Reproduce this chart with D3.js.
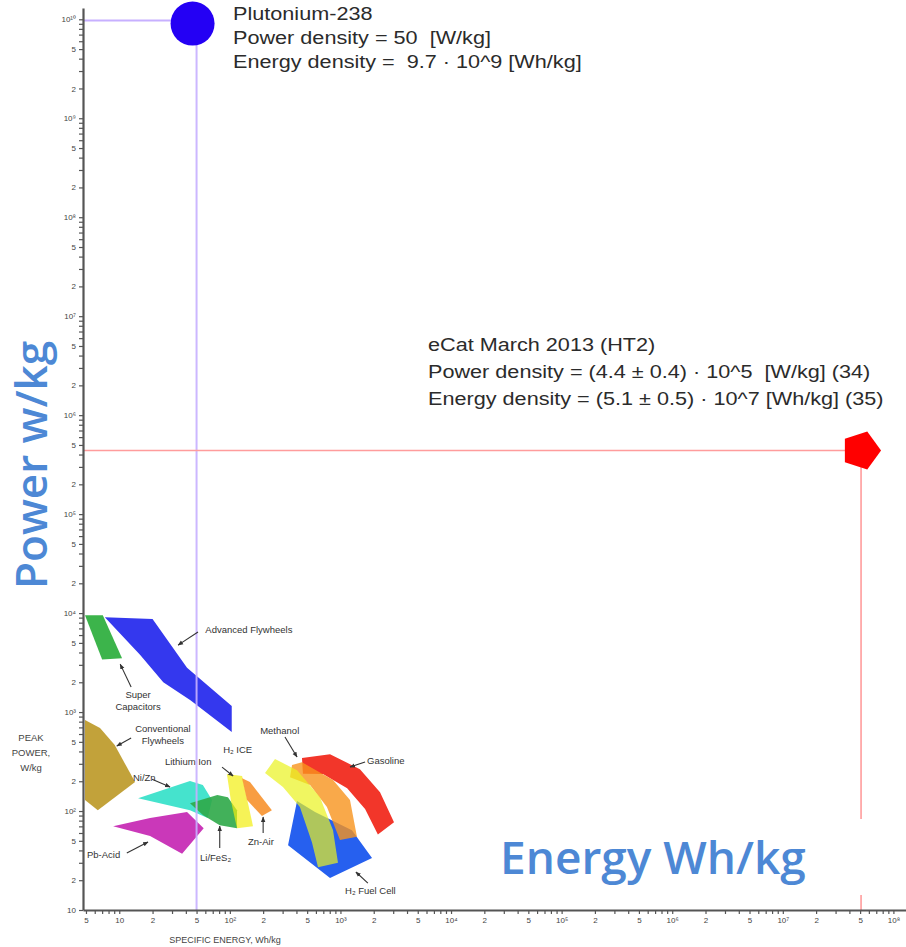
<!DOCTYPE html>
<html>
<head>
<meta charset="utf-8">
<script src="https://cdn.jsdelivr.net/npm/d3@7"></script>
<style>
  body { margin: 0; background: #fff; }
  svg { display: block; }
  text { font-family: "Liberation Sans", Arial, sans-serif; }
</style>
</head>
<body>
<svg id="chart" width="906" height="947"></svg>
<script>
let width = 906,
  height = 947

// Ragone regions, vertices as [specific energy Wh/kg, peak power W/kg]
const superCapacitors = [[4.9, 9500], [7.1, 9500], [10.6, 3500], [7.0, 3400]]
const advancedFlywheels = [[7.4, 9100], [20, 8700], [41, 2800], [104, 1150], [104, 630], [44, 1320], [25, 2000], [15.4, 3800]]
const conventionalFlywheels = [[4.9, 830], [6.7, 690], [9.1, 464], [13.9, 196], [6.4, 102], [4.9, 129]]
const niZn = [[14.8, 135], [43.6, 201], [57, 183], [69, 129], [63, 85], [43.6, 102]]
const pbAcid = [[8.8, 70], [19, 85], [41, 98], [58, 67], [37, 37], [19, 56]]
const liFeS2 = [[43.6, 120], [77, 145], [96, 138], [116, 102], [116, 67], [81, 72], [57, 91]]
const lithiumIon = [[94, 236], [129, 226], [162, 70], [116, 67], [102, 129]]
const znAir = [[129, 215], [152, 196], [240, 102], [195, 89], [143, 129]]
const h2FuelCell = [[405, 126], [589, 98], [1270, 64], [1930, 33.5], [805, 21], [336, 45]]
const gasoline = [[449, 343], [805, 375], [1500, 265], [2280, 155], [3050, 77], [2180, 58], [1670, 105], [1150, 170], [695, 236], [458, 238]]
const methanol = [[350, 220], [365, 292], [449, 312], [857, 206], [1220, 129], [1410, 55], [990, 51], [755, 110], [531, 183]]
const h2Ice = [[208, 242], [256, 335], [405, 259], [653, 138], [857, 64], [950, 30], [627, 27], [553, 48], [430, 110], [302, 175]]

// region fills, in drawing order
const regions = [
  { pts: superCapacitors, fill: "#3cb44b", op: 1 },
  { pts: advancedFlywheels, fill: "#3438ee", op: 1 },
  { pts: conventionalFlywheels, fill: "#c2a23a", op: 1 },
  { pts: niZn, fill: "#45e3cd", op: 1 },
  { pts: pbAcid, fill: "#ca38b9", op: 1 },
  { pts: liFeS2, fill: "#2ea948", op: 0.9 },
  { pts: lithiumIon, fill: "#f2ee10", op: 0.7 },
  { pts: znAir, fill: "#f7922e", op: 0.9 },
  { pts: h2FuelCell, fill: "#2660ef", op: 1 },
  { pts: gasoline, fill: "#f2362a", op: 1 },
  { pts: methanol, fill: "#f7941d", op: 0.8 },
  { pts: h2Ice, fill: "#eaf21e", op: 0.7 }
]

// labels: text lines, anchor [energy, power], arrow from / to
const labelText = [["Advanced Flywheels"], ["Super", "Capacitors"], ["Conventional", "Flywheels"], ["Ni/Zn"], ["Lithium Ion"], ["H₂ ICE"], ["Methanol"], ["Gasoline"], ["Pb-Acid"], ["Li/FeS₂"], ["Zn-Air"], ["H₂ Fuel Cell"]]
const labelAt = [[60, 6280], [14.8, 1380], [24.8, 628], [13.3, 201], [25.9, 292], [87, 385], [188, 600], [1740, 299], [5.1, 33.5], [53.7, 31.3], [146, 45.4], [1100, 14.5]]
const labelMid = [false, true, true, false, false, false, false, false, false, false, false, false]
const arrowFrom = [[51.5, 6430], [12.8, 1790], [12.8, 546], [19.8, 210], [85, 278], null, [315, 559], [1670, 313], [11.7, 37.7], [81, 42.3], [200, 60], [1770, 18.7]]
const arrowTo = [[34, 4750], [10.2, 3050], [9.5, 454], [28.8, 175], [107, 226], null, [405, 351], [1220, 278], [18.2, 48.7], [81, 70.5], [200, 87], [1380, 24.2]]

// highlighted points
const puPoint = [50, 9.7e9]      // drawn with power on x, energy on y
const ecatPoint = [5.1e7, 4.4e5] // energy on x, power on y
const puLines = ["Plutonium-238", "Power density = 50  [W/kg]", "Energy density =  9.7 · 10^9 [Wh/kg]"]
const ecatLines = ["eCat March 2013 (HT2)", "Power density = (4.4 ± 0.4) · 10^5  [W/kg] (34)", "Energy density = (5.1 ± 0.5) · 10^7 [Wh/kg] (35)"]

let x = d3.scaleLog().domain([4.7, 1.3e8]).range([83, 906]),
  y = d3.scaleLog().domain([10, 1.3e10]).range([910, 8])

const sup = "⁰¹²³⁴⁵⁶⁷⁸⁹"
function tickLabel(d) {
  let e = Math.floor(Math.log10(d) + 1e-9),
    m = Math.round(d / 10 ** e)
  if (m == 1) return e == 1 ? "10" : "10" + String(e).split("").map(c => sup[+c]).join("")
  return m == 2 || m == 5 ? String(m) : ""
}

const svg = d3.select("#chart")

svg.append("defs").append("marker")
  .attr("id", "head")
  .attr("viewBox", "0 0 10 10")
  .attr("refX", 9).attr("refY", 5)
  .attr("markerWidth", 5).attr("markerHeight", 5)
  .attr("orient", "auto")
  .append("path")
  .attr("d", "M0,1L10,5L0,9Z")
  .attr("fill", "#333")

// regions
let area = d3.line()
  .x(d => x(d[0]))
  .y(d => y(d[1]))
  .curve(d3.curveLinearClosed)

svg.append("g")
  .selectAll("path")
  .data(regions).enter()
  .append("path")
  .attr("d", d => area(d.pts))
  .attr("fill", d => d.fill)
  .attr("fill-opacity", d => d.op)

// guide lines
let guides = svg.append("g")
guides.append("line")
  .attr("x1", x.range()[0]).attr("x2", x(puPoint[0]))
  .attr("y1", y(puPoint[1])).attr("y2", y(puPoint[1]))
  .attr("stroke", "#c7b0ff").attr("stroke-width", 2)
guides.append("line")
  .attr("x1", x(puPoint[0])).attr("x2", x(puPoint[0]))
  .attr("y1", y(puPoint[1])).attr("y2", y.range()[0])
  .attr("stroke", "#c7b0ff").attr("stroke-width", 2).attr("opacity", 0.9)
guides.append("line")
  .attr("x1", x.range()[0]).attr("x2", x(ecatPoint[0]))
  .attr("y1", y(ecatPoint[1])).attr("y2", y(ecatPoint[1]))
  .attr("stroke", "#ff9c9c").attr("stroke-width", 1.6)
guides.append("line")
  .attr("x1", x(ecatPoint[0])).attr("x2", x(ecatPoint[0]))
  .attr("y1", y(ecatPoint[1])).attr("y2", y.range()[0])
  .attr("stroke", "#ff9c9c").attr("stroke-width", 1.6)

// axes
let xAxis = svg.append("g")
  .attr("transform", `translate(0,${y.range()[0]})`)
  .call(d3.axisBottom(x).tickSize(4).tickSizeOuter(0).tickFormat(tickLabel))
let yAxis = svg.append("g")
  .attr("transform", `translate(${x.range()[0]},0)`)
  .call(d3.axisLeft(y).tickSize(4).tickSizeOuter(0).tickFormat(tickLabel))

for (let a of [xAxis, yAxis]) {
  a.select(".domain").attr("stroke", "#555").attr("stroke-width", 2.2)
  a.selectAll(".tick line").attr("stroke", "#555").attr("stroke-width", 1.2)
  a.selectAll(".tick text")
    .attr("fill", "#444")
    .style("font-size", "8px")
    .style("font-family", "'Liberation Sans', Arial, sans-serif")
}

svg.append("text")
  .attr("x", 225).attr("y", 943)
  .attr("text-anchor", "middle")
  .attr("fill", "#444")
  .style("font-size", "9px")
  .text("SPECIFIC ENERGY, Wh/kg")

svg.append("text")
  .attr("text-anchor", "middle")
  .attr("fill", "#444")
  .style("font-size", "9.5px")
  .selectAll("tspan")
  .data(["PEAK", "POWER,", "W/kg"]).enter()
  .append("tspan")
  .attr("x", 31)
  .attr("y", (d, i) => 741 + i * 15)
  .text(d => d)

// region labels and arrows
let labels = svg.append("g")
  .attr("fill", "#333")
  .style("font-size", "9.5px")

labelText.forEach((lines, i) => {
  labels.append("text")
    .attr("text-anchor", labelMid[i] ? "middle" : "start")
    .selectAll("tspan")
    .data(lines).enter()
    .append("tspan")
    .attr("x", x(labelAt[i][0]))
    .attr("y", (d, j) => y(labelAt[i][1]) + j * 12)
    .text(d => d)
  if (arrowFrom[i]) {
    labels.append("line")
      .attr("x1", x(arrowFrom[i][0])).attr("y1", y(arrowFrom[i][1]))
      .attr("x2", x(arrowTo[i][0])).attr("y2", y(arrowTo[i][1]))
      .attr("stroke", "#333").attr("stroke-width", 1.1)
      .attr("marker-end", "url(#head)")
  }
})

// highlighted markers
svg.append("circle")
  .attr("cx", x(puPoint[0]) - 4)
  .attr("cy", y(puPoint[1]) + 3)
  .attr("r", 22)
  .attr("fill", "#2400f4")

let cx = x(ecatPoint[0]),
  cy = y(ecatPoint[1])
svg.append("path")
  .attr("d", d3.line().curve(d3.curveLinearClosed)(d3.range(5).map(i => [cx + 20 * Math.cos(i * 2 * Math.PI / 5), cy + 20 * Math.sin(i * 2 * Math.PI / 5)])))
  .attr("fill", "#ff0000")

// notes
function note(lines, tx, ty, gap) {
  let g = svg.append("g")
    .attr("transform", `translate(${tx},${ty}) scale(1.17,1)`)
  g.selectAll("text")
    .data(lines).enter()
    .append("text")
    .attr("y", (d, i) => i * gap)
    .attr("fill", "#2b2b2b")
    .style("font-size", "18.5px")
    .style("white-space", "pre")
    .text(d => d)
}
note(puLines, 233, 20, 24)
note(ecatLines, 428, 351, 27)

// big overlay labels
svg.append("rect")
  .attr("x", 492).attr("y", 819)
  .attr("width", 385).attr("height", 76)
  .attr("fill", "#fff")

svg.append("text")
  .attr("x", 500).attr("y", 874)
  .attr("fill", "#4d88d5")
  .style("font-family", "'Open Sans', sans-serif")
  .style("font-weight", 600)
  .style("font-size", "46px")
  .text("Energy Wh/kg")

svg.append("text")
  .attr("transform", "translate(47,589) rotate(-90)")
  .attr("fill", "#4d88d5")
  .style("font-family", "'Open Sans', sans-serif")
  .style("font-weight", 600)
  .style("font-size", "44px")
  .text("Power w/kg")
</script>
</body>
</html>
